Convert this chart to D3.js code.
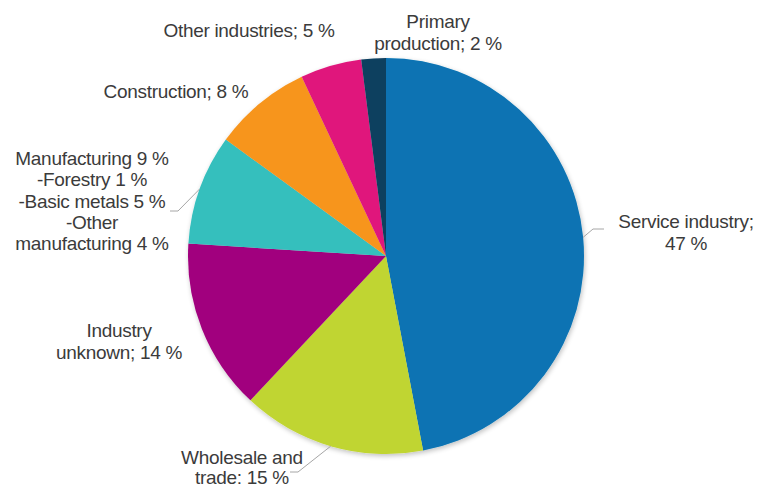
<!DOCTYPE html>
<html><head><meta charset="utf-8">
<script src="https://cdn.jsdelivr.net/npm/d3@7"></script>
<style>html,body{margin:0;padding:0;background:#fff;}svg{display:block;}</style>
</head><body>
<svg id="c" width="762" height="488"></svg>
<script>
const categories = ["Service industry", "Wholesale and trade", "Industry unknown", "Manufacturing", "Construction", "Other industries", "Primary production"];
const values = [47, 15, 14, 9, 8, 5, 2];
const colors = ["#0873b3", "#c0d530", "#a1047e", "#34bfbd", "#f7951e", "#e0187b", "#0b3f5f"];
const labelLines = [
  ["Service industry;", "47 %"],
  ["Wholesale and", "trade: 15 %"],
  ["Industry", "unknown; 14 %"],
  ["Manufacturing 9 %", "-Forestry 1 %", "-Basic metals 5 %", "-Other", "manufacturing 4 %"],
  ["Construction; 8 %"],
  ["Other industries; 5 %"],
  ["Primary", "production; 2 %"]
];
// label anchor positions (text centre x, first baseline y, line spacing)
const labelPos = [[686,228,22],[242,464,20],[119,337,21.5],[92,165,21.3],[176,98,0],[249,37,0],[438,28,22]];

const svg = d3.select("#c");
const cx = 386, cy = 256, r = 198;
const defs = svg.append("defs");
const f = defs.append("filter").attr("id","sh").attr("x","-10%").attr("y","-10%").attr("width","120%").attr("height","120%");
f.append("feGaussianBlur").attr("in","SourceAlpha").attr("stdDeviation",2.5).attr("result","b");
f.append("feOffset").attr("in","b").attr("dx",1).attr("dy",2).attr("result","o");
f.append("feComponentTransfer").attr("in","o").attr("result","o2").append("feFuncA").attr("type","linear").attr("slope",0.25);
const m = f.append("feMerge"); m.append("feMergeNode").attr("in","o2"); m.append("feMergeNode").attr("in","SourceGraphic");

const pie = d3.pie().sort(null).value(d => d)(values);
const arc = d3.arc().innerRadius(0).outerRadius(r);
const g = svg.append("g").attr("transform", `translate(${cx},${cy})`).attr("filter","url(#sh)");
g.selectAll("path").data(pie).join("path").attr("d", arc).attr("fill", (d,i) => colors[i]);

// leader lines
const edge = d3.arc().innerRadius(r).outerRadius(r);
const leaders = {0: [[593,229],[604,229]], 1: [[298,472],[290,472]], 3: [[178,211],[170,211]]};
Object.entries(leaders).forEach(([i, pts]) => {
  const c = edge.centroid(pie[+i]);
  const p0 = [cx + c[0], cy + c[1]];
  svg.append("path").attr("d", d3.line()([p0, ...pts])).attr("fill","none").attr("stroke","#a6a6a6").attr("stroke-width",1);
});

const t = svg.append("g").attr("font-family","'Liberation Sans', Arial, sans-serif").attr("font-size",19).attr("fill","#3b3b3b").attr("text-anchor","middle").attr("letter-spacing","-0.3");
labelLines.forEach((lines, i) => {
  const [x, y, lh] = labelPos[i];
  const txt = t.append("text").attr("x", x).attr("y", y);
  lines.forEach((l, k) => txt.append("tspan").attr("x", x).attr("y", y + k*lh).text(l));
});
</script>
</body></html>
